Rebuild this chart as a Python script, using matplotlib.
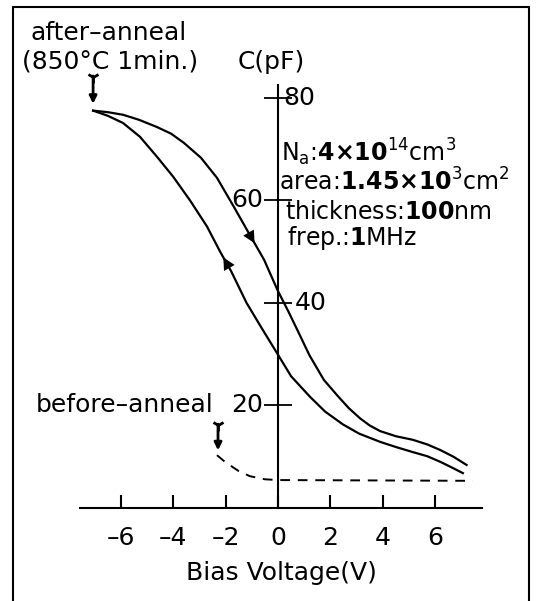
import numpy as np
import matplotlib.pyplot as plt
from matplotlib.patches import Rectangle

# after-anneal hysteresis, sweep from -7V up and back (C in pF)
v_down = [-7.06, -6.5, -5.92, -5.3, -4.62, -4.08, -3.59, -2.94, -2.33, -1.68, -1.18, -0.53, 0,
          0.4, 0.76, 1.2, 1.75, 2.29, 2.7, 3.13, 3.5, 3.9, 4.5, 5.15, 5.7, 6.2, 6.7, 7.2]
c_down = [77.5, 77.2, 76.7, 75.7, 74.3, 73.0, 71.2, 68.3, 64.4, 58.7, 54.2, 48.4, 42.3,
          38.3, 34.5, 29.8, 25.0, 21.8, 19.5, 17.5, 16.1, 15.0, 14.0, 13.3, 12.4, 11.3, 10.0, 8.4]
v_up = [-7.06, -6.5, -5.92, -5.27, -4.62, -4.0, -3.36, -2.71, -2.2, -1.79, -1.2, -0.6, 0,
        0.5, 1.22, 1.8, 2.48, 3.1, 3.9, 4.5, 5.15, 5.7, 6.2, 6.6, 7.06]
c_up = [77.5, 76.5, 75.1, 72.4, 68.5, 64.6, 60.0, 54.9, 49.9, 46.2, 40.0, 34.9, 29.9,
        25.7, 21.7, 18.8, 16.3, 14.5, 12.9, 11.9, 10.9, 10.1, 9.0, 8.0, 6.8]
# before-anneal (dashed)
v_before = [-2.33, -2.0, -1.5, -1.07, -0.5, 0, 7.44]
c_before = [10.3, 8.9, 7.2, 6.2, 5.6, 5.45, 5.3]

xticks = [-6, -4, -2, 0, 2, 4, 6]
xticklabels = ['\u20136', '\u20134', '\u20132', '0', '2', '4', '6']
yticks = [20, 40, 60, 80]

fs = 18
plt.rcParams['font.family'] = 'DejaVu Sans'

fig = plt.figure(figsize=(5.39, 6.01), dpi=100)
ax = fig.add_axes([80/539, 93/601, 402/539, 423/601])
ax.set_xlim(-7.56, 7.79)
ax.set_ylim(0, 82.5)

ax.plot(v_down, c_down, 'k', lw=1.6, solid_joinstyle='round')
ax.plot(v_up, c_up, 'k', lw=1.6, solid_joinstyle='round')
ax.plot(v_before, c_before, 'k--', lw=1.4, dashes=(5, 4))

# direction arrows on the loop
tip, tail = -0.84, -1.0
ax.annotate('', xy=(tip, np.interp(tip, v_down, c_down)),
            xytext=(tail, np.interp(tail, v_down, c_down)),
            arrowprops=dict(arrowstyle='-|>', color='k', lw=0, mutation_scale=22))
tip, tail = -2.14, -1.95
ax.annotate('', xy=(tip, np.interp(tip, v_up, c_up)),
            xytext=(tail, np.interp(tail, v_up, c_up)),
            arrowprops=dict(arrowstyle='-|>', color='k', lw=0, mutation_scale=22))

# feathered arrows marking the curve starts
for xa, top, bot in [(-7.06, 84.8, 78.3), (-2.29, 16.9, 10.7)]:
    ax.annotate('', xy=(xa, bot), xytext=(xa, top), annotation_clip=False,
                arrowprops=dict(arrowstyle='-|>', color='k', lw=2, mutation_scale=11))
    ax.plot(xa, top - 0.7, marker='1', color='k', ms=9, mew=2, clip_on=False)

# axes through the origin
for s in ['top', 'right']:
    ax.spines[s].set_visible(False)
ax.spines['left'].set_position(('data', 0))
ax.spines['left'].set_linewidth(1.5)
ax.spines['bottom'].set_linewidth(1.5)

ax.set_xticks(xticks, labels=xticklabels, fontsize=fs)
ax.tick_params(axis='x', direction='in', length=9.5, width=1.5, pad=13)
ax.set_yticks(yticks, labels=[])
ax.tick_params(axis='y', direction='inout', length=20, width=1.3)
for val, dx in [(80, 4), (60, -11), (40, 12), (20, -11)]:
    ax.annotate(str(val), xy=(0, val), xytext=(dx, 0), textcoords='offset points',
                ha='left' if dx > 0 else 'right', va='center', fontsize=fs)

ax.set_xlabel('Bias Voltage(V)', fontsize=fs, labelpad=8)

fig.text(30/539, 1 - 33/601, 'after\u2013anneal', fontsize=fs, va='center')
fig.text(22/539, 1 - 62/601, '(850\u00b0C 1min.)', fontsize=fs, va='center')
fig.text(238/539, 1 - 62/601, 'C(pF)', fontsize=fs, va='center')
fig.text(36/539, 1 - 405/601, 'before\u2013anneal', fontsize=fs, va='center')

info = [
    (281, 152, r'N$_{\mathrm{a}}$:$\mathbf{4{\times}10}^{14}$cm$^{3}$'),
    (279, 182, r'area:$\mathbf{1.45{\times}10}^{3}$cm$^{2}$'),
    (285, 212, r'thickness:$\mathbf{100}$nm'),
    (287, 238, r'frep.:$\mathbf{1}$MHz'),
]
for x, y, s in info:
    fig.text(x/539, 1 - y/601, s, fontsize=17, va='center')

fig.patches.append(Rectangle((13/539, -0.02), 516/539, 1.02 - 7/601,
                             transform=fig.transFigure, fill=False, lw=1.5, ec='k'))

fig.savefig('out.png', dpi=100)
